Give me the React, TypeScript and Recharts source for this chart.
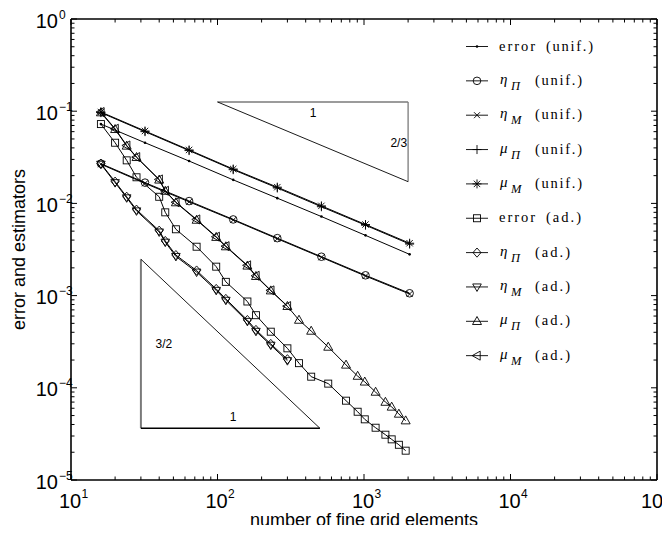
import React from "react";
import {
  ScatterChart,
  Scatter,
  XAxis,
  YAxis,
  ReferenceLine,
  ReferenceDot
} from "recharts";

// uniform refinement: number of fine grid elements
const X_UNIF = [16, 32, 64, 128, 256, 512, 1024, 2048];
const ERR_UNIF = [0.0725, 0.0455, 0.0288, 0.018, 0.0114, 0.0072, 0.0045, 0.0028];
const ETA_PI_UNIF = [0.027, 0.0168, 0.0106, 0.0067, 0.0042, 0.00264, 0.00166, 0.00106];
const ETA_M_UNIF = [0.0266, 0.0165, 0.0104, 0.0066, 0.00413, 0.0026, 0.00163, 0.00104];
const MU_PI_UNIF = [0.0965, 0.06, 0.0374, 0.0232, 0.0147, 0.0092, 0.0058, 0.00362];
const MU_M_UNIF = [0.098, 0.061, 0.038, 0.0236, 0.015, 0.0094, 0.0059, 0.0037];

// adaptive refinement
const X_AD = [
  16, 20, 24, 28, 40, 44, 52, 72, 98, 114, 160, 183, 231, 300, 360, 436, 570,
  754, 905, 1012, 1200, 1400, 1545, 1730, 1925
];
const ERR_AD = [
  0.0725, 0.0455, 0.0293, 0.0192, 0.0118, 0.008, 0.00524, 0.00339, 0.00206,
  0.00141, 0.000863, 0.000613, 0.000406, 0.000268, 0.000185, 0.000132,
  0.000111, 7.25e-5, 5.5e-5, 4.55e-5, 3.69e-5, 3.1e-5, 2.76e-5, 2.41e-5, 2.08e-5
];
const ETA_PI_AD = [
  0.027, 0.0172, 0.0118, 0.00855, 0.00506, 0.00391, 0.00275, 0.00187, 0.00118,
  0.00092, 0.000543, 0.000424, 0.000299, 0.000204
];
const ETA_M_AD = [
  0.0266, 0.0168, 0.0115, 0.0083, 0.0049, 0.0038, 0.00266, 0.0018, 0.00114,
  0.00089, 0.000525, 0.00041, 0.00029, 0.000197
];
const MU_PI_AD = [
  0.0965, 0.0636, 0.042, 0.0316, 0.018, 0.0136, 0.0102, 0.0066, 0.0043,
  0.0034, 0.0021, 0.00162, 0.00113, 0.000766, 0.000543, 0.000413, 0.000277,
  0.000177, 0.000134, 0.000116, 9.0e-5, 7.0e-5, 6.2e-5, 5.2e-5, 4.4e-5
];
const MU_M_AD = [
  0.098, 0.0645, 0.0425, 0.0318, 0.0182, 0.0137, 0.0103, 0.0067, 0.00435,
  0.00344, 0.00213, 0.00164, 0.00114, 0.00077
];

// slope triangles
const TRI_UPPER = [
  { x: 100, y: 0.126 },
  { x: 2000, y: 0.126 },
  { x: 2000, y: 0.0172 }
];
const TRI_LOWER = [
  { x: 30, y: 0.00248 },
  { x: 30, y: 3.64e-5 },
  { x: 500, y: 3.64e-5 }
];
const TRI_LABELS = [
  { text: "1", x: 450, y: 0.096, anchor: "middle" },
  { text: "2/3", x: 2000, y: 0.0455, anchor: "end" },
  { text: "3/2", x: 43, y: 3e-4, anchor: "middle" },
  { text: "1", x: 128, y: 4.9e-5, anchor: "middle" }
];

const SERIES = [
  { key: "errU", sym: "error", sub: "", tag: "(unif.)", marker: "dot", xs: X_UNIF, ys: ERR_UNIF },
  { key: "etaPiU", sym: "η", sub: "Π", tag: "(unif.)", marker: "circle", xs: X_UNIF, ys: ETA_PI_UNIF },
  { key: "etaMU", sym: "η", sub: "M", tag: "(unif.)", marker: "x", xs: X_UNIF, ys: ETA_M_UNIF },
  { key: "muPiU", sym: "μ", sub: "Π", tag: "(unif.)", marker: "plus", xs: X_UNIF, ys: MU_PI_UNIF },
  { key: "muMU", sym: "μ", sub: "M", tag: "(unif.)", marker: "star", xs: X_UNIF, ys: MU_M_UNIF },
  { key: "errA", sym: "error", sub: "", tag: "(ad.)", marker: "square", xs: X_AD, ys: ERR_AD },
  { key: "etaPiA", sym: "η", sub: "Π", tag: "(ad.)", marker: "diamond", xs: X_AD, ys: ETA_PI_AD },
  { key: "etaMA", sym: "η", sub: "M", tag: "(ad.)", marker: "tdown", xs: X_AD, ys: ETA_M_AD },
  { key: "muPiA", sym: "μ", sub: "Π", tag: "(ad.)", marker: "tup", xs: X_AD, ys: MU_PI_AD },
  { key: "muMA", sym: "μ", sub: "M", tag: "(ad.)", marker: "tleft", xs: X_AD, ys: MU_M_AD }
];

const logTicks = (lo: number, hi: number) => {
  const out: number[] = [];
  for (let d = lo; d < hi; d++) {
    for (let m = 1; m < 10; m++) out.push(m * Math.pow(10, d));
  }
  out.push(Math.pow(10, hi));
  return out;
};
const X_TICKS = logTicks(1, 5);
const Y_TICKS = logTicks(-5, 0);

const isMajor = (v: number) => Math.abs(Math.log10(v) - Math.round(Math.log10(v))) < 1e-9;
const expOf = (v: number) => {
  const e = Math.round(Math.log10(v));
  return e < 0 ? "\u2212" + Math.abs(e) : String(e);
};

const SANS = '"Liberation Sans", Arial, Helvetica, sans-serif';
const SERIF = '"Liberation Serif", "Times New Roman", serif';
const MAJ = 6;
const MIN = 3.5;

function Mark({ type, cx, cy }: { type: string; cx: number; cy: number }) {
  const s = { stroke: "#000", strokeWidth: 0.9, fill: "none" };
  switch (type) {
    case "dot":
      return <circle cx={cx} cy={cy} r={1.3} fill="#000" />;
    case "circle":
      return <circle cx={cx} cy={cy} r={3.8} {...s} />;
    case "x":
      return <path d={`M${cx - 3},${cy - 3}L${cx + 3},${cy + 3}M${cx - 3},${cy + 3}L${cx + 3},${cy - 3}`} {...s} />;
    case "plus":
      return <path d={`M${cx - 4.5},${cy}L${cx + 4.5},${cy}M${cx},${cy - 4.5}L${cx},${cy + 4.5}`} {...s} />;
    case "star":
      return (
        <path
          d={`M${cx - 4.5},${cy}L${cx + 4.5},${cy}M${cx},${cy - 4.5}L${cx},${cy + 4.5}M${cx - 3.2},${cy - 3.2}L${cx + 3.2},${cy + 3.2}M${cx - 3.2},${cy + 3.2}L${cx + 3.2},${cy - 3.2}`}
          {...s}
        />
      );
    case "square":
      return <rect x={cx - 3.5} y={cy - 3.5} width={7} height={7} {...s} />;
    case "diamond":
      return <path d={`M${cx},${cy - 4.6}L${cx + 4},${cy}L${cx},${cy + 4.6}L${cx - 4},${cy}Z`} {...s} />;
    case "tdown":
      return <path d={`M${cx - 4.3},${cy - 3}L${cx + 4.3},${cy - 3}L${cx},${cy + 4.5}Z`} {...s} />;
    case "tup":
      return <path d={`M${cx - 4.5},${cy + 3.2}L${cx + 4.5},${cy + 3.2}L${cx},${cy - 4.8}Z`} {...s} />;
    case "tleft":
      return <path d={`M${cx + 3.2},${cy - 4.5}L${cx + 3.2},${cy + 4.5}L${cx - 4.8},${cy}Z`} {...s} />;
    default:
      return null;
  }
}

const BottomTick = (p: any) => {
  const v = p.payload.value;
  const major = isMajor(v);
  // the last label sits at the right edge of the figure
  const shift = v >= 100000 ? -4 : 0;
  return (
    <g>
      <line x1={p.x} x2={p.x} y1={p.y} y2={p.y - (major ? MAJ : MIN)} stroke="#000" />
      {major && (
        <>
          <text x={p.x - 1 + shift} y={p.y + 28} textAnchor="middle" fontSize={20} fontFamily={SANS} fill="#000">
            10
          </text>
          <text x={p.x + 10.5 + shift} y={p.y + 18} fontSize={12} fontFamily={SANS} fill="#000">
            {expOf(v)}
          </text>
        </>
      )}
    </g>
  );
};

const TopTick = (p: any) => {
  const major = isMajor(p.payload.value);
  return <line x1={p.x} x2={p.x} y1={p.y} y2={p.y + (major ? MAJ : MIN)} stroke="#000" />;
};

const LeftTick = (p: any) => {
  const v = p.payload.value;
  const major = isMajor(v);
  return (
    <g>
      <line x1={p.x} x2={p.x + (major ? MAJ : MIN)} y1={p.y} y2={p.y} stroke="#000" />
      {major && (
        <>
          <text x={p.x - 13} y={p.y + 8.5} textAnchor="end" fontSize={20} fontFamily={SANS} fill="#000">
            10
          </text>
          <text x={p.x - 12} y={p.y - 0.5} fontSize={12} fontFamily={SANS} fill="#000">
            {expOf(v)}
          </text>
        </>
      )}
    </g>
  );
};

const RightTick = (p: any) => {
  const major = isMajor(p.payload.value);
  return <line x1={p.x} x2={p.x - (major ? MAJ : MIN)} y1={p.y} y2={p.y} stroke="#000" />;
};

const LEG_X0 = 466;
const LEG_Y0 = 46.5;
const LEG_DY = 34.35;

function LegendRow({ s, y }: { s: any; y: number }) {
  const tagLen = s.tag === "(unif.)" ? 47 : 35;
  return (
    <g>
      <line x1={LEG_X0} x2={LEG_X0 + 22} y1={y} y2={y} stroke="#000" strokeWidth={0.9} />
      <Mark type={s.marker} cx={LEG_X0 + 11} cy={y} />
      {s.sym === "error" ? (
        <>
          <text x={499} y={y + 4} fontSize={14.5} fontFamily={SERIF} textLength={36} lengthAdjust="spacing">
            error
          </text>
          <text x={546} y={y + 4} fontSize={14.5} fontFamily={SERIF} textLength={tagLen} lengthAdjust="spacing">
            {s.tag}
          </text>
        </>
      ) : (
        <>
          <text x={500} y={y + 3} fontSize={15} fontFamily={SERIF} fontStyle="italic">
            {s.sym}
          </text>
          <text x={511} y={y + 9} fontSize={12.5} fontFamily={SERIF} fontStyle="italic">
            {s.sub}
          </text>
          <text x={535} y={y + 4} fontSize={14.5} fontFamily={SERIF} textLength={tagLen} lengthAdjust="spacing">
            {s.tag}
          </text>
        </>
      )}
    </g>
  );
}

const triEdges = (pts: { x: number; y: number }[]) => [
  [pts[0], pts[1]],
  [pts[1], pts[2]],
  [pts[2], pts[0]]
];

export default function App() {
  const upper = triEdges(TRI_UPPER);
  const lower = triEdges(TRI_LOWER);
  const upperStyle = [
    { stroke: "#7a7a7a", strokeWidth: 1.6 },
    { stroke: "#7a7a7a", strokeWidth: 1.3 },
    { stroke: "#000", strokeWidth: 0.9 }
  ];
  const lowerStyle = [
    { stroke: "#7a7a7a", strokeWidth: 2 },
    { stroke: "#000", strokeWidth: 1.3 },
    { stroke: "#000", strokeWidth: 0.9 }
  ];

  return (
    <div
      style={{
        position: "relative",
        width: 670,
        height: 533,
        margin: -8,
        background: "#fff",
        fontFamily: SANS
      }}
    >
      <ScatterChart width={670} height={533} margin={{ top: 0, right: 0, bottom: 0, left: 0 }}>
        <XAxis
          xAxisId="b"
          type="number"
          dataKey="x"
          scale="log"
          domain={[10, 100000]}
          allowDataOverflow
          ticks={X_TICKS}
          interval={0}
          orientation="bottom"
          height={53}
          tickSize={0}
          tickMargin={0}
          tickLine={false}
          tick={BottomTick}
          axisLine={{ stroke: "#000", strokeWidth: 1.6 }}
        />
        <XAxis
          xAxisId="t"
          type="number"
          dataKey="x"
          scale="log"
          domain={[10, 100000]}
          allowDataOverflow
          ticks={X_TICKS}
          interval={0}
          orientation="top"
          height={19}
          tickSize={0}
          tickMargin={0}
          tickLine={false}
          tick={TopTick}
          axisLine={{ stroke: "#000", strokeWidth: 1.4 }}
        />
        <YAxis
          yAxisId="l"
          type="number"
          dataKey="y"
          scale="log"
          domain={[1e-5, 1]}
          allowDataOverflow
          ticks={Y_TICKS}
          interval={0}
          orientation="left"
          width={71}
          tickSize={0}
          tickMargin={0}
          tickLine={false}
          tick={LeftTick}
          axisLine={{ stroke: "#000", strokeWidth: 1.6 }}
        />
        <YAxis
          yAxisId="r"
          type="number"
          dataKey="y"
          scale="log"
          domain={[1e-5, 1]}
          allowDataOverflow
          ticks={Y_TICKS}
          interval={0}
          orientation="right"
          width={13}
          tickSize={0}
          tickMargin={0}
          tickLine={false}
          tick={RightTick}
          axisLine={{ stroke: "#000", strokeWidth: 1.6 }}
        />

        {upper.map((seg, i) => (
          <ReferenceLine
            key={"u" + i}
            xAxisId="b"
            yAxisId="l"
            segment={seg}
            ifOverflow="visible"
            {...upperStyle[i]}
          />
        ))}
        {lower.map((seg, i) => (
          <ReferenceLine
            key={"l" + i}
            xAxisId="b"
            yAxisId="l"
            segment={seg}
            ifOverflow="visible"
            {...lowerStyle[i]}
          />
        ))}
        {TRI_LABELS.map((t, i) => (
          <ReferenceDot
            key={"t" + i}
            xAxisId="b"
            yAxisId="l"
            x={t.x}
            y={t.y}
            r={0}
            ifOverflow="visible"
            shape={(p: any) => (
              <text
                x={t.anchor === "end" ? p.cx - 1 : p.cx}
                y={p.cy}
                dy="0.35em"
                textAnchor={t.anchor as any}
                fontSize={12}
                fontFamily={SANS}
                fill="#000"
              >
                {t.text}
              </text>
            )}
          />
        ))}

        {SERIES.map((s) => (
          <Scatter
            key={s.key}
            name={s.key}
            xAxisId="b"
            yAxisId="l"
            data={s.ys.map((y, i) => ({ x: s.xs[i], y }))}
            fill="none"
            line={{ stroke: "#000", strokeWidth: 1 }}
            lineType="joint"
            shape={(p: any) => <Mark type={s.marker} cx={p.cx} cy={p.cy} />}
            isAnimationActive={false}
          />
        ))}
      </ScatterChart>

      <svg
        width={670}
        height={533}
        style={{ position: "absolute", left: 0, top: 0, pointerEvents: "none" }}
      >
        {SERIES.map((s, i) => (
          <LegendRow key={s.key} s={s} y={LEG_Y0 + i * LEG_DY} />
        ))}
        <text x={364} y={526} textAnchor="middle" fontSize={18} fontFamily={SANS} fill="#000">
          number of fine grid elements
        </text>
        <text
          x={25}
          y={249.5}
          textAnchor="middle"
          fontSize={18}
          fontFamily={SANS}
          fill="#000"
          transform="rotate(-90 25 249.5)"
        >
          error and estimators
        </text>
      </svg>
    </div>
  );
}
